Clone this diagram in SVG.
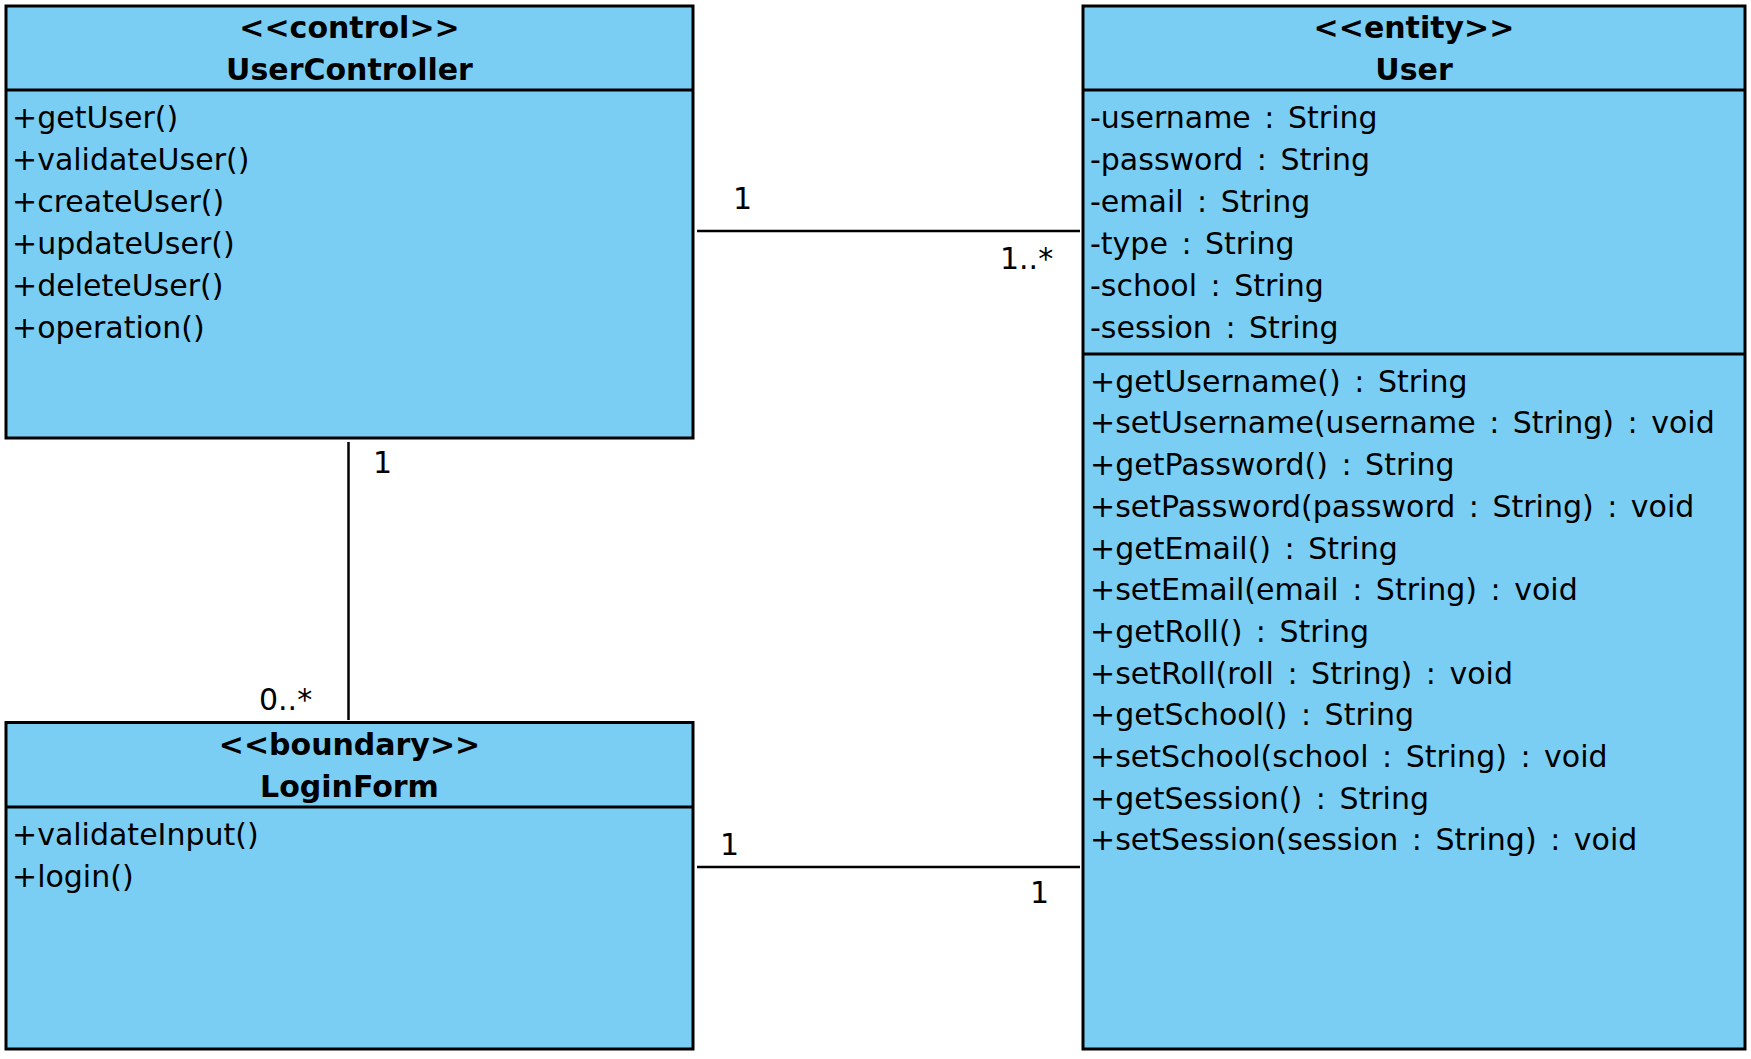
<svg xmlns="http://www.w3.org/2000/svg" width="1751" height="1059" viewBox="0 0 1751 1059">
<style>
.box{fill:#7ACEF4;stroke:#000;stroke-width:3}
.div{stroke:#000;stroke-width:3}
.conn{stroke:#000;stroke-width:2.5;fill:none}
text{font-family:"DejaVu Sans",sans-serif;font-size:30px;fill:#000;word-spacing:4px}
.hd{font-weight:bold;text-anchor:middle}
</style>
<rect width="1751" height="1059" fill="#fff"/>
<g id="connectors">
<line class="conn" x1="697" y1="231" x2="1080" y2="231"/>
<line class="conn" x1="348.5" y1="442" x2="348.5" y2="720"/>
<line class="conn" x1="697" y1="867" x2="1080" y2="867"/>
<text x="733" y="209">1</text>
<text x="1000" y="269">1..*</text>
<text x="373" y="473">1</text>
<text x="259" y="710">0..*</text>
<text x="720" y="855">1</text>
<text x="1030" y="903">1</text>
</g>
<g id="UserController">
<rect class="box" x="6" y="6" width="687" height="432"/>
<line class="div" x1="6" y1="90" x2="693" y2="90"/>
<text class="hd" x="349.5" y="38">&lt;&lt;control&gt;&gt;</text>
<text class="hd" x="349.5" y="80">UserController</text>
<text x="12" y="128">+getUser()</text>
<text x="12" y="170">+validateUser()</text>
<text x="12" y="212">+createUser()</text>
<text x="12" y="254">+updateUser()</text>
<text x="12" y="296">+deleteUser()</text>
<text x="12" y="338">+operation()</text>
</g>
<g id="LoginForm">
<rect class="box" x="6" y="722.5" width="687" height="326.5"/>
<line class="div" x1="6" y1="807" x2="693" y2="807"/>
<text class="hd" x="349.5" y="754.5">&lt;&lt;boundary&gt;&gt;</text>
<text class="hd" x="349.5" y="796.5">LoginForm</text>
<text x="12" y="845">+validateInput()</text>
<text x="12" y="887">+login()</text>
</g>
<g id="User">
<rect class="box" x="1083" y="6" width="662" height="1043"/>
<line class="div" x1="1083" y1="90" x2="1745" y2="90"/>
<line class="div" x1="1083" y1="354" x2="1745" y2="354"/>
<text class="hd" x="1414" y="38">&lt;&lt;entity&gt;&gt;</text>
<text class="hd" x="1414" y="80">User</text>
<text x="1090" y="128">-username : String</text>
<text x="1090" y="170">-password : String</text>
<text x="1090" y="212">-email : String</text>
<text x="1090" y="254">-type : String</text>
<text x="1090" y="296">-school : String</text>
<text x="1090" y="338">-session : String</text>
<text x="1090" y="391.7">+getUsername() : String</text>
<text x="1090" y="433.4">+setUsername(username : String) : void</text>
<text x="1090" y="475.1">+getPassword() : String</text>
<text x="1090" y="516.8">+setPassword(password : String) : void</text>
<text x="1090" y="558.5">+getEmail() : String</text>
<text x="1090" y="600.2">+setEmail(email : String) : void</text>
<text x="1090" y="641.9">+getRoll() : String</text>
<text x="1090" y="683.6">+setRoll(roll : String) : void</text>
<text x="1090" y="725.3">+getSchool() : String</text>
<text x="1090" y="767">+setSchool(school : String) : void</text>
<text x="1090" y="808.7">+getSession() : String</text>
<text x="1090" y="850.4">+setSession(session : String) : void</text>
</g>
</svg>
